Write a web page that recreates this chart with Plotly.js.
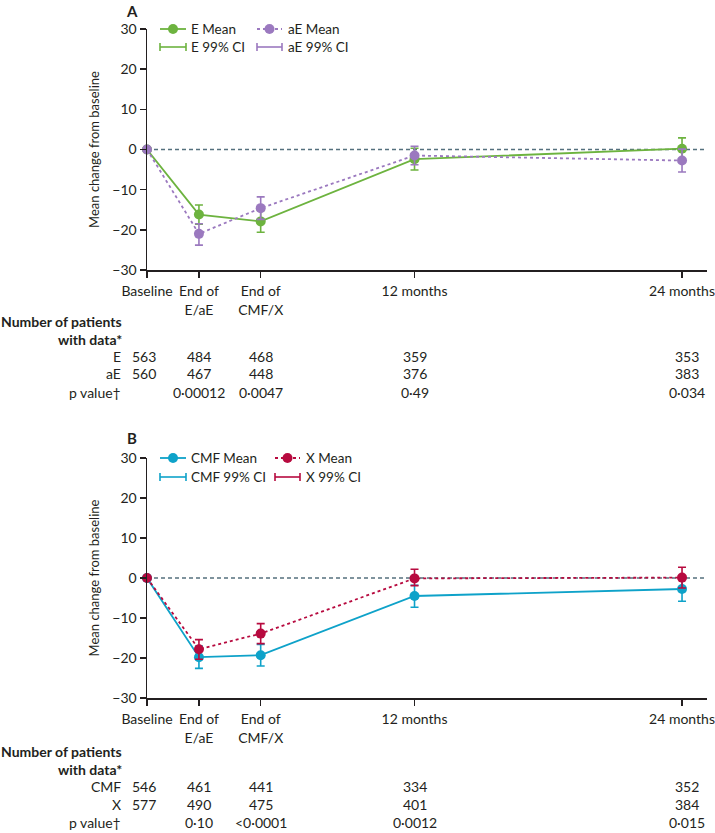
<!DOCTYPE html>
<html>
<head>
<meta charset="utf-8">
<script src="https://cdn.plot.ly/plotly-3.0.1.min.js"></script>
<style>html,body{margin:0;padding:0;background:#fff;}#chart{width:715px;height:833px;}</style>
</head>
<body>
<div id="chart"></div>
<script>
// ---------- DATA ----------
var categories = ["Baseline", "End of<br>E/aE", "End of<br>CMF/X", "12 months", "24 months"];
var timeMonths = [0, 2.33, 5.1, 12, 24];

// Panel A
var eMean  = [0, -16.2, -17.9, -2.4, 0.2];
var eLo    = [null, -18.6, -20.6, -5.1, -2.5];
var eHi    = [null, -13.8, -15.2, 0.3, 2.9];
var aeMean = [0, -21.0, -14.6, -1.5, -2.75];
var aeLo   = [null, -23.8, -17.4, -3.8, -5.6];
var aeHi   = [null, -18.5, -11.8, 0.8, 0.1];

// Panel B
var cmfMean = [0, -19.8, -19.3, -4.5, -2.75];
var cmfLo   = [null, -22.6, -22.0, -7.3, -5.8];
var cmfHi   = [null, -17.0, -16.6, -1.8, 0.3];
var xMean   = [0, -17.8, -13.9, -0.1, 0.1];
var xLo     = [null, -20.3, -16.4, -1.9, -2.5];
var xHi     = [null, -15.4, -11.4, 2.2, 2.7];

// Table A
var nE   = ["563", "484", "468", "359", "353"];
var nAE  = ["560", "467", "448", "376", "383"];
var pA   = ["", "0·00012", "0·0047", "0·49", "0·034"];
// Table B
var nCMF = ["546", "461", "441", "334", "352"];
var nX   = ["577", "490", "475", "401", "384"];
var pB   = ["", "0·10", "<0·0001", "0·0012", "0·015"];

var yTicks = [30, 20, 10, 0, -10, -20, -30];

// ---------- STYLE ----------
var FONT = "Lato, 'Open Sans', sans-serif";
var INK = "#231f20";
var cE = "#6db33f", cAE = "#9b79bf", cCMF = "#0ea2c9", cX = "#b70a3f";
var zeroCol = "#55707e";
var FS = 14;

function errs(mean, lo, hi) {
  return {
    plus: mean.map(function (m, i) { return hi[i] === null ? null : hi[i] - m; }),
    minus: mean.map(function (m, i) { return lo[i] === null ? null : m - lo[i]; })
  };
}

function series(mean, lo, hi, color, dash, xa, ya, name) {
  var e = errs(mean, lo, hi);
  return {
    type: "scatter", mode: "lines+markers", name: name,
    x: timeMonths, y: mean, xaxis: xa, yaxis: ya,
    line: {color: color, width: 1.8, dash: dash},
    marker: {color: color, size: 10},
    error_y: {type: "data", symmetric: false, array: e.plus, arrayminus: e.minus,
              color: color, thickness: 1.6, width: 4},
    cliponaxis: false, showlegend: false, hoverinfo: "x+y"
  };
}

var traces = [
  series(eMean, eLo, eHi, cE, "solid", "x", "y", "E Mean"),
  series(aeMean, aeLo, aeHi, cAE, "3px,3px", "x", "y", "aE Mean"),
  series(cmfMean, cmfLo, cmfHi, cCMF, "solid", "x2", "y2", "CMF Mean"),
  series(xMean, xLo, xHi, cX, "3px,3px", "x2", "y2", "X Mean")
];

// pixel -> paper helpers (plot area: x 147..707, y 29..698)
var L = 147, R = 8, T = 29, B = 135, W = 715, H = 833;
var PW = W - L - R, PH = H - T - B;
function px(x) { return (x - L) / PW; }
function py(y) { return (H - B - y) / PH; }

var xRange = [0, 25.12];

function xAxis(anchor) {
  return {
    anchor: anchor, range: xRange, tickmode: "array", tickvals: timeMonths, ticktext: categories,
    showgrid: false, zeroline: false, showline: true, linecolor: INK, linewidth: 1.5,
    ticks: "outside", ticklen: 6, tickwidth: 1.5, tickcolor: INK,
    tickfont: {family: FONT, size: FS, color: INK}, ticklabelstandoff: 2, fixedrange: true
  };
}
function yAxis(anchor, domain) {
  return {
    anchor: anchor, domain: domain, range: [-30, 30], tickmode: "array", tickvals: yTicks,
    showgrid: false, zeroline: false, showline: true, linecolor: INK, linewidth: 1.5,
    ticks: "outside", ticklen: 6, tickwidth: 1.5, tickcolor: INK,
    tickfont: {family: FONT, size: FS, color: INK},
    title: {text: "Mean change from baseline", font: {family: FONT, size: 13, color: INK}, standoff: 10},
    fixedrange: true
  };
}

var shapes = [];
var annotations = [];

// zero reference lines
[["x", "y"], ["x2", "y2"]].forEach(function (a) {
  shapes.push({type: "line", xref: a[0] + " domain", yref: a[1], x0: 0, x1: 1, y0: 0, y1: 0,
               line: {color: zeroCol, width: 1.5, dash: "4px,3px"}, layer: "below"});
});

// legends drawn manually
function legendMean(x0, x1, y, color, dash, label, tx) {
  shapes.push({type: "line", xref: "paper", yref: "paper", x0: px(x0), x1: px(x1), y0: py(y), y1: py(y),
               line: {color: color, width: 1.8, dash: dash}});
  shapes.push({type: "circle", xref: "paper", yref: "paper", xsizemode: "pixel", ysizemode: "pixel",
               xanchor: px((x0 + x1) / 2), yanchor: py(y), x0: -5, x1: 5, y0: -5, y1: 5,
               fillcolor: color, line: {color: color, width: 0}});
  annotations.push({xref: "paper", yref: "paper", x: px(tx), y: py(y), xanchor: "left", yanchor: "middle",
                    text: label, showarrow: false, font: {family: FONT, size: 13.5, color: INK}});
}
function legendCI(x0, x1, y, color, label, tx) {
  shapes.push({type: "line", xref: "paper", yref: "paper", x0: px(x0), x1: px(x1), y0: py(y), y1: py(y),
               line: {color: color, width: 1.6}});
  [x0, x1].forEach(function (xx) {
    shapes.push({type: "line", xref: "paper", yref: "paper", x0: px(xx), x1: px(xx), y0: py(y - 4), y1: py(y + 4),
                 line: {color: color, width: 1.6}});
  });
  annotations.push({xref: "paper", yref: "paper", x: px(tx), y: py(y), xanchor: "left", yanchor: "middle",
                    text: label, showarrow: false, font: {family: FONT, size: 13.5, color: INK}});
}

legendMean(160, 186, 29, cE, "solid", "E Mean", 189);
legendMean(257, 282, 29, cAE, "3px,3px", "aE Mean", 286);
legendCI(160, 186, 47, cE, "E 99% CI", 189);
legendCI(257, 282, 47, cAE, "aE 99% CI", 286);

legendMean(160, 186, 458, cCMF, "solid", "CMF Mean", 189);
legendMean(275, 300, 458, cX, "3px,3px", "X Mean", 304);
legendCI(160, 186, 477, cCMF, "CMF 99% CI", 189);
legendCI(275, 300, 477, cX, "X 99% CI", 304);

// panel letters
annotations.push({xref: "paper", yref: "paper", x: px(132), y: py(1), xanchor: "center", yanchor: "top",
                  borderpad: 0, text: "<b>A</b>", showarrow: false, font: {family: FONT, size: 15, color: INK}});
annotations.push({xref: "paper", yref: "paper", x: px(132), y: py(428), xanchor: "center", yanchor: "top",
                  borderpad: 0, text: "<b>B</b>", showarrow: false, font: {family: FONT, size: 15, color: INK}});

// tables
var colShift = [-3, 0, 0, 0, 5];
function table(xref, topY, rowLabels, rows) {
  annotations.push({xref: "paper", yref: "paper", x: px(124), y: py(topY), xanchor: "right", yanchor: "middle",
                    text: "<b>Number of patients</b>", showarrow: false, font: {family: FONT, size: FS, color: INK}});
  annotations.push({xref: "paper", yref: "paper", x: px(124), y: py(topY + 18), xanchor: "right", yanchor: "middle",
                    text: "<b>with data*</b>", showarrow: false, font: {family: FONT, size: FS, color: INK}});
  rows.forEach(function (vals, r) {
    var yy = py(topY + 35 + 18 * r);
    annotations.push({xref: "paper", yref: "paper", x: px(123), y: yy, xanchor: "right", yanchor: "middle",
                      text: rowLabels[r], showarrow: false, font: {family: FONT, size: FS, color: INK}});
    vals.forEach(function (v, i) {
      if (!v) return;
      annotations.push({xref: xref, yref: "paper", x: timeMonths[i], xshift: colShift[i], y: yy,
                        xanchor: "center", yanchor: "middle", text: v, showarrow: false,
                        font: {family: FONT, size: FS, color: INK}});
    });
  });
}
table("x", 321, ["E", "aE", "p value†"], [nE, nAE, pA]);
table("x2", 751, ["CMF", "X", "p value†"], [nCMF, nX, pB]);

var layout = {
  width: W, height: H, margin: {l: L, r: R, t: T, b: B},
  paper_bgcolor: "#fff", plot_bgcolor: "#fff",
  font: {family: FONT, color: INK},
  showlegend: false,
  xaxis: xAxis("y"),
  yaxis: yAxis("x", [py(270), 1]),
  xaxis2: xAxis("y2"),
  yaxis2: yAxis("x2", [0, py(458)]),
  shapes: shapes, annotations: annotations
};

Plotly.newPlot("chart", traces, layout, {staticPlot: true, displayModeBar: false});
</script>
</body>
</html>
